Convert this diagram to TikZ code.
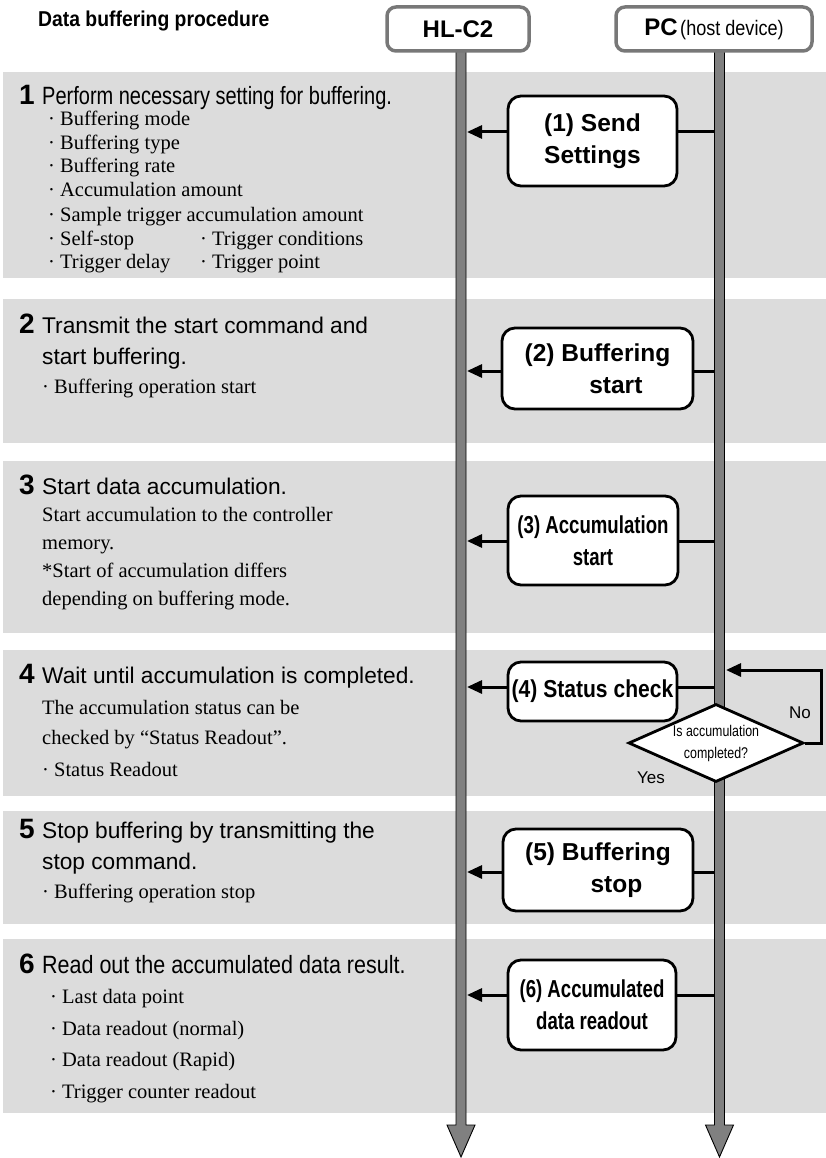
\documentclass[tikz,border=0pt]{standalone}
\usepackage{fontspec}
\setmainfont{Liberation Serif}
\newfontfamily\arialf{Liberation Sans}
\newfontfamily\narrowA[FakeStretch=0.80]{Liberation Sans}
\newfontfamily\narrowB[FakeStretch=0.76]{Liberation Sans}
\newfontfamily\narrowC[FakeStretch=0.86]{Liberation Sans}
\newfontfamily\narrowD[FakeStretch=0.90]{Liberation Sans}
\usetikzlibrary{shapes.geometric,arrows.meta,calc}
\definecolor{bandgray}{RGB}{220,220,220}
\definecolor{lifegray}{RGB}{128,128,128}
\definecolor{hdrgray}{RGB}{120,120,120}
\newcommand\numf{\arialf\bfseries\fontsize{28}{30}\selectfont}
\newcommand\ttlf{\arialf\fontsize{22.7}{30}\selectfont}
\newcommand\nttlf{\narrowA\fontsize{25}{30}\selectfont}
\newcommand\wttlf{\narrowC\fontsize{25}{30}\selectfont}
\newcommand\serf{\rmfamily\fontsize{20.5}{24}\selectfont}
\newcommand\msgf{\arialf\bfseries\fontsize{24.5}{32}\selectfont}
\newcommand\nmsgf{\narrowB\bfseries\fontsize{24.5}{32}\selectfont}
\newcommand\smsgf{\narrowC\bfseries\fontsize{24.5}{32}\selectfont}
\newcommand\diaf{\narrowA\fontsize{15.5}{22}\selectfont}
\begin{document}
\begin{tikzpicture}[x=1pt,y=-1pt,
  txt/.style={anchor=base west,inner sep=0pt},
  numtxt/.style={txt,font=\numf},
  ttltxt/.style={txt,font=\ttlf},
  nttltxt/.style={txt,font=\nttlf},
  sertxt/.style={txt,font=\serf},
  hdrbox/.style={draw=hdrgray,line width=3.5pt,rounded corners=9pt,fill=white,
     minimum height=44pt,inner sep=0pt},
  msgbox/.style={draw=black,line width=2.8pt,rounded corners=13pt,fill=white,
     inner sep=0pt,align=center,font=\msgf},
  msgline/.style={line width=3pt,draw=black},
  msgarrow/.style={msgline,-{Triangle[length=15pt,width=13pt]}},
  lifeline/.style={fill=lifegray,draw=black,line width=0.9pt},
  lbl/.style={inner sep=0pt,font=\arialf\fontsize{17}{20}\selectfont}
]
\useasboundingbox (0,0) rectangle (826,1158);
% bands
\fill[bandgray] (3,72) rectangle (826,278);
\fill[bandgray] (3,299) rectangle (826,443);
\fill[bandgray] (3,461) rectangle (826,633);
\fill[bandgray] (3,650) rectangle (826,796);
\fill[bandgray] (3,811) rectangle (826,924);
\fill[bandgray] (3,939) rectangle (826,1113);

% header boxes (positions)
\path (458,29) coordinate (hlc);
\path (714,29) coordinate (pcc);
\path (461,0) coordinate (hlx);
\path (719.5,0) coordinate (pcx);
\path ($(hlc)+(0,22)$) coordinate (hlbot);
\path ($(pcc)+(0,22)$) coordinate (pcbot);
\coordinate (hltop) at (hlx |- hlbot);
\coordinate (pctop) at (pcx |- pcbot);
\coordinate (hlend) at (hlx |- 0,1157);
\coordinate (pcend) at (pcx |- 0,1157);

% lifelines
\filldraw[lifeline] ($(hltop)+(-5,0)$) -- ($(hlend)+(-5,-32)$) -- ($(hlend)+(-14,-32)$) -- (hlend)
  -- ($(hlend)+(14,-32)$) -- ($(hlend)+(5,-32)$) -- ($(hltop)+(5,0)$);
\filldraw[lifeline] ($(pctop)+(-5,0)$) -- ($(pcend)+(-5,-32)$) -- ($(pcend)+(-14,-32)$) -- (pcend)
  -- ($(pcend)+(14,-32)$) -- ($(pcend)+(5,-32)$) -- ($(pctop)+(5,0)$);

\node[hdrbox,minimum width=142pt,font=\arialf\bfseries\fontsize{24}{28}\selectfont] (hl) at (hlc) {HL-C2};
\node[hdrbox,minimum width=196pt] (pc) at (pcc) {{\arialf\bfseries\fontsize{24}{28}\selectfont PC}\ {\narrowC\fontsize{21}{28}\selectfont (host device)}};

\node[txt,font=\narrowD\bfseries\fontsize{21.5}{24}\selectfont] (title) at (38,27) {Data buffering procedure};

% message boxes
\node[msgbox,minimum width=169pt,minimum height=90pt] (m1) at (592.5,141) {(1) Send\\Settings};
\node[msgbox,minimum width=191pt,minimum height=81pt] (m2) at (597.5,368.5) {(2) Buffering\\\hphantom{(2) }start};
\node[msgbox,minimum width=170pt,minimum height=89pt,font=\nmsgf] (m3) at (593,540.5) {(3) Accumulation\\start};
\node[msgbox,minimum width=169pt,minimum height=59pt,font=\smsgf] (m4) at (592.5,691.5) {(4) Status check};
\node[msgbox,minimum width=190pt,minimum height=82pt] (m5) at (598,870) {(5) Buffering\\\hphantom{(5) }stop};
\node[msgbox,minimum width=168pt,minimum height=90pt,font=\nmsgf] (m6) at (592,1005) {(6) Accumulated\\data readout};

% lifeline contact points
\coordinate (p1) at (714.5,132);   \coordinate (h1) at (467,132);
\coordinate (p2) at (714.5,371);   \coordinate (h2) at (467,371);
\coordinate (p3) at (714.5,541);   \coordinate (h3) at (467,541);
\coordinate (p4) at (714.5,687);   \coordinate (h4) at (467,687);
\coordinate (p5) at (714.5,872);   \coordinate (h5) at (467,872);
\coordinate (p6) at (714.5,995);   \coordinate (h6) at (467,995);

\foreach \i in {1,...,6}{
  \draw[msgline] (p\i) -- (m\i.east |- p\i);
  \draw[msgarrow] (m\i.west |- p\i) -- (h\i);
}

% decision
\node[diamond,aspect=2.24,draw=black,line width=2.8pt,fill=white,minimum width=175pt,minimum height=78pt,
      inner sep=0pt,align=center,font=\diaf] (dia) at (716,743) {Is accumulation\\completed?};
\coordinate (loopend) at (726,670);
\draw[msgarrow] (dia.east) -- ++(17,0) |- (loopend);
\node[lbl] (no) at (800,713) {No};
\node[lbl] (yes) at (651,778) {Yes};

% step 1
\node[numtxt] (n1) at (19,105) {1};
\node[nttltxt] (t1) at (42,105) {Perform necessary setting for buffering.};
\node[sertxt] (i1a) at (48,126) {· Buffering mode};
\node[sertxt] (i1b) at (48,150) {· Buffering type};
\node[sertxt] (i1c) at (48,173) {· Buffering rate};
\node[sertxt] (i1d) at (48,197) {· Accumulation amount};
\node[sertxt] (i1e) at (48,222) {· Sample trigger accumulation amount};
\node[sertxt] (i1f) at (48,246) {· Self-stop};
\node[sertxt] (i1g) at (200,246) {· Trigger conditions};
\node[sertxt] (i1h) at (48,269) {· Trigger delay};
\node[sertxt] (i1i) at (200,269) {· Trigger point};

% step 2
\node[numtxt] (n2) at (19,333) {2};
\node[ttltxt] (t2) at (42,333) {Transmit the start command and};
\node[ttltxt] (t2b) at (42,364) {start buffering.};
\node[sertxt] (i2a) at (42,393) {· Buffering operation start};

% step 3
\node[numtxt] (n3) at (19,494) {3};
\node[ttltxt] (t3) at (42,494) {Start data accumulation.};
\node[sertxt] (i3a) at (42,521) {Start accumulation to the controller};
\node[sertxt] (i3b) at (42,549) {memory.};
\node[sertxt] (i3c) at (42,577) {*Start of accumulation differs};
\node[sertxt] (i3d) at (42,605) {depending on buffering mode.};

% step 4
\node[numtxt] (n4) at (19,683) {4};
\node[ttltxt] (t4) at (42,683) {Wait until accumulation is completed.};
\node[sertxt] (i4a) at (42,714) {The accumulation status can be};
\node[sertxt] (i4b) at (42,744) {checked by “Status Readout”.};
\node[sertxt] (i4c) at (42,776) {· Status Readout};

% step 5
\node[numtxt] (n5) at (19,838) {5};
\node[ttltxt] (t5) at (42,838) {Stop buffering by transmitting the};
\node[ttltxt] (t5b) at (42,869) {stop command.};
\node[sertxt] (i5a) at (42,898) {· Buffering operation stop};

% step 6
\node[numtxt] (n6) at (19,973) {6};
\node[txt,font=\wttlf] (t6) at (42,973) {Read out the accumulated data result.};
\node[sertxt] (i6a) at (50,1003) {· Last data point};
\node[sertxt] (i6b) at (50,1035) {· Data readout (normal)};
\node[sertxt] (i6c) at (50,1066) {· Data readout (Rapid)};
\node[sertxt] (i6d) at (50,1098) {· Trigger counter readout};
\end{tikzpicture}
\end{document}
